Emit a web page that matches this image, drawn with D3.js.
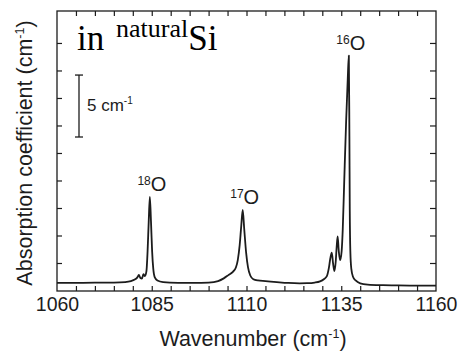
<!DOCTYPE html>
<html><head><meta charset="utf-8">
<script src="https://cdn.jsdelivr.net/npm/d3@7"></script>
<style>
html,body{margin:0;padding:0;background:#fff;}
svg{display:block;}
</style></head>
<body>
<svg id="chart" width="460" height="354"></svg>
<script>
// ---- data ----
const wavenumber = [1060,1065,1070,1075,1078,1079.5,1080.5,1081.2,1081.6,1082.0,1082.4,1082.8,1083.2,1083.6,1083.9,1084.2,1084.5,1084.8,1085.1,1085.4,1085.8,1086.5,1088,1092,1096,1100,1102.5,1104,1105.2,1106.4,1107.2,1107.7,1108.2,1108.6,1109.0,1109.4,1109.9,1110.4,1111.0,1111.8,1113,1115,1118,1121,1124,1126,1128,1129.4,1130.4,1131.2,1131.7,1132.1,1132.5,1132.85,1133.2,1133.55,1133.8,1134.05,1134.35,1134.7,1135.1,1135.4,1135.8,1136.3,1136.7,1137.0,1137.15,1137.25,1137.4,1137.65,1138.1,1138.8,1140,1142,1146,1150,1155,1160];
const absorption = [0.66,0.66,0.67,0.68,0.72,0.8,0.92,1.1,1.3,1.05,1.0,1.35,1.2,1.6,3.2,5.6,7.6,5.6,3.2,1.8,1.1,0.85,0.72,0.66,0.65,0.68,0.8,1.02,1.28,1.55,1.9,2.5,3.7,5.2,6.55,5.0,3.1,1.9,1.25,0.95,0.85,0.8,0.72,0.65,0.62,0.63,0.68,0.78,0.95,1.2,1.8,2.6,3.1,2.2,1.6,2.4,3.6,4.4,3.2,2.5,3.2,5.0,9.0,13.8,17.0,19.0,12.5,6.5,3.2,1.8,1.15,0.85,0.62,0.52,0.47,0.45,0.44,0.44];
const xTickLabels = [1060,1085,1110,1135,1160];
const xMinorTicks = [1065,1070,1075,1080,1085,1090,1095,1100,1105,1110,1115,1120,1125,1130,1135,1140,1145,1150,1155];
const yMinorTicks = [2.26,4.48,6.70,8.92,11.14,13.36,15.58,17.80,20.02];
const peakLabels = [{iso:"18", w:1084.5, v:7.6},{iso:"17", w:1109.0, v:6.55},{iso:"16", w:1137.0, v:19.0}];
const scaleBar = {start:12.43, length:5, label:"5 cm", sup:"-1"};

// ---- layout ----
const svg = d3.select("#chart");
const L=57, R=436, T=11, B=291;
const x = d3.scaleLinear().domain([1060,1160]).range([L,R]);
const y = d3.scaleLinear().domain([0,22.6]).range([B,T]);
const ink = "#1c1c1c";
const sans = "'Liberation Sans', Arial, Helvetica, sans-serif";

// frame
svg.append("rect").attr("x",L).attr("y",T).attr("width",R-L).attr("height",B-T)
  .attr("fill","none").attr("stroke",ink).attr("stroke-width",1.3);

// inward ticks
function styleAxis(g){ g.select(".domain").remove(); g.selectAll("line").attr("stroke",ink).attr("stroke-width",1.2); }
svg.append("g").attr("transform",`translate(0,${B})`)
  .call(d3.axisBottom(x).tickValues(xMinorTicks).tickSize(-5).tickFormat("")).call(styleAxis);
svg.append("g").attr("transform",`translate(0,${T})`)
  .call(d3.axisTop(x).tickValues(xMinorTicks).tickSize(-5).tickFormat("")).call(styleAxis);
svg.append("g").attr("transform",`translate(${L},0)`)
  .call(d3.axisLeft(y).tickValues(yMinorTicks).tickSize(-5).tickFormat("")).call(styleAxis);
svg.append("g").attr("transform",`translate(${R},0)`)
  .call(d3.axisRight(y).tickValues(yMinorTicks).tickSize(-6).tickFormat("")).call(styleAxis);

// tick labels
const xl = svg.append("g").attr("transform",`translate(0,${B})`)
  .call(d3.axisBottom(x).tickValues(xTickLabels).tickSize(0).tickPadding(0).tickFormat(d3.format("d")));
xl.select(".domain").remove();
xl.selectAll("text").attr("y",20).attr("dy",0).attr("font-size",19.5).attr("font-family",sans).attr("fill",ink);

// axis titles
const xt = svg.append("text").attr("x",253).attr("y",346).attr("text-anchor","middle")
  .attr("font-family",sans).attr("font-size",21.5).attr("fill",ink);
xt.append("tspan").text("Wavenumber (cm");
xt.append("tspan").attr("font-size",12.5).attr("dy",-8).text("-1");
xt.append("tspan").attr("dy",8).text(")");

const yt = svg.append("text").attr("transform",`translate(32,${153}) rotate(-90)`).attr("text-anchor","middle")
  .attr("font-family",sans).attr("font-size",21.5).attr("fill",ink);
yt.append("tspan").text("Absorption coefficient (cm");
yt.append("tspan").attr("font-size",12.5).attr("dy",-8).text("-1");
yt.append("tspan").attr("dy",8).text(")");

// spectrum
const pts = wavenumber.map((w,i)=>[w,absorption[i]]);
svg.append("path").datum(pts)
  .attr("d", d3.line().x(d=>x(d[0])).y(d=>y(d[1])).curve(d3.curveMonotoneX))
  .attr("fill","none").attr("stroke",ink).attr("stroke-width",1.8).attr("stroke-linejoin","round");

// peak labels
peakLabels.forEach(p=>{
  const t = svg.append("text").attr("x",x(p.w)+2).attr("y",y(p.v)-6).attr("text-anchor","middle")
    .attr("font-family",sans).attr("font-size",20).attr("fill",ink);
  t.append("tspan").attr("font-size",12).attr("dy",-6).text(p.iso);
  t.append("tspan").attr("dy",6).text("O");
});

// scale bar
const sbX = 79;
const g = svg.append("g").attr("stroke",ink).attr("stroke-width",1.3);
g.append("line").attr("x1",sbX).attr("x2",sbX).attr("y1",y(scaleBar.start)).attr("y2",y(scaleBar.start+scaleBar.length));
g.append("line").attr("x1",sbX-4).attr("x2",sbX+4).attr("y1",y(scaleBar.start)).attr("y2",y(scaleBar.start));
g.append("line").attr("x1",sbX-4).attr("x2",sbX+4).attr("y1",y(scaleBar.start+scaleBar.length)).attr("y2",y(scaleBar.start+scaleBar.length));
const sbt = svg.append("text").attr("x",87).attr("y",111).attr("font-family",sans).attr("font-size",17).attr("fill",ink);
sbt.append("tspan").text(scaleBar.label);
sbt.append("tspan").attr("font-size",10).attr("dy",-7).text(scaleBar.sup);

// sample annotation
const serif = "'Liberation Serif','Times New Roman',serif";
const ann = svg.append("text").attr("y",50).attr("font-family",serif).attr("font-size",35).attr("fill","#000");
ann.append("tspan").attr("x",77).text("in");
ann.append("tspan").attr("x",116).attr("font-size",26).attr("dy",-13).text("natural");
ann.append("tspan").attr("dy",13).text("Si");
</script>
</body></html>
